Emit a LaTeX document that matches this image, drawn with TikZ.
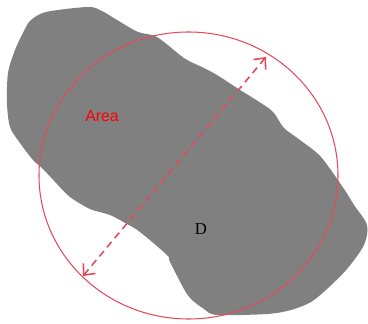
\documentclass[tikz,border=0pt]{standalone}
\usepackage{fontspec}
\usepackage{xcolor}
\usepackage{tikz}
\usetikzlibrary{positioning, arrows.meta}
\newfontfamily\arialfont{Liberation Sans}
\newfontfamily\timesfont{Liberation Serif}
\definecolor{ringred}{HTML}{E34A5C}
\definecolor{blobgray}{HTML}{808080}

\begin{document}
\begin{tikzpicture}[x=0.02cm,y=-0.02cm]

        \useasboundingbox (0,0) rectangle (368,324);

        \fill[blobgray] plot[smooth cycle, tension=0.5] coordinates {
            (30,21) (46,12) (88,7) (102,11) (117,20) (138,32) (157,37)
            (184,58) (204,68) (217,75) (237,88) (264,105) (274,113)
            (284,128) (300,140) (321,157) (344,189) (354,205) (367,225)
            (364,245) (347,269) (327,289) (311,302) (291,310) (267,314)
            (217,315) (204,309) (191,299) (184,289) (170,262) (167,255)
            (140,232) (127,224) (110,215) (90,209) (70,197) (57,184)
            (43,169) (33,160) (20,143) (10,127) (7,103) (8,73) (15,50)
            (23,33)};

        \draw[ringred, line width=0.6pt] (188.5,175.5) ellipse [x radius=149.5, y radius=143.5];

        \coordinate (top) at (266,57);
        \coordinate (bot) at (83,276);

        \node (area) at (102,116) {\arialfont\fontsize{9}{10}\selectfont\color{red}Area};
        \node (d) at (201,229) {\timesfont\fontsize{9.5}{11}\selectfont D};

		\path[{Straight Barb[length=5pt,width=9pt]}-{Straight Barb[length=5pt,width=9pt]}]
        (top) edge[ringred, line width=0.9pt, dash pattern=on 4pt off 2.8pt] (bot);

\end{tikzpicture}
\end{document}
